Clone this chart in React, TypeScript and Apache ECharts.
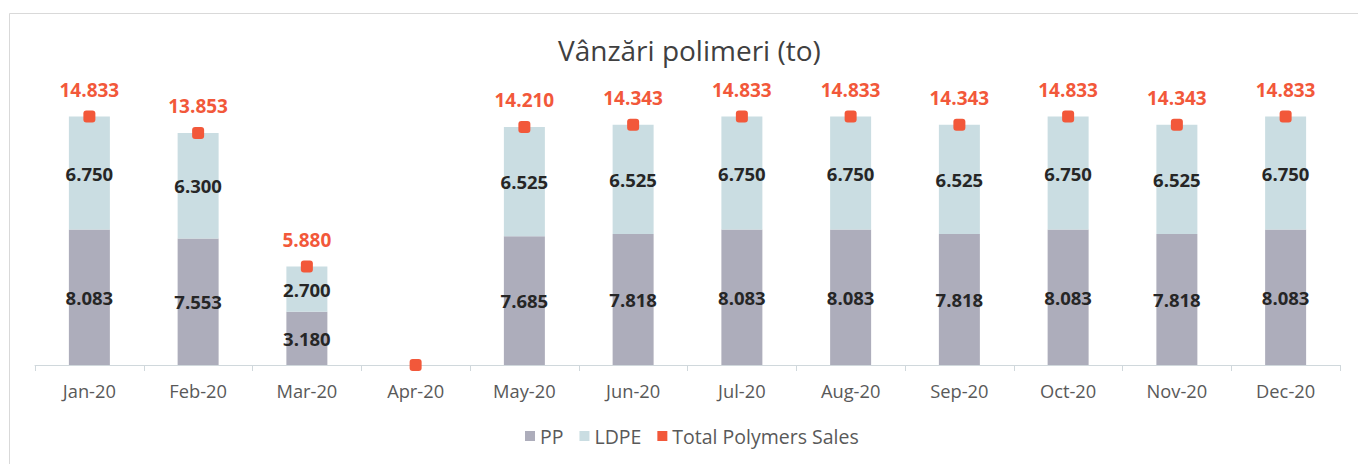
import React, { useEffect, useRef } from "react";
import * as echarts from "echarts";

const categories = ["Jan-20", "Feb-20", "Mar-20", "Apr-20", "May-20", "Jun-20", "Jul-20", "Aug-20", "Sep-20", "Oct-20", "Nov-20", "Dec-20"];
const ppValues = [8.083, 7.553, 3.18, 0, 7.685, 7.818, 8.083, 8.083, 7.818, 8.083, 7.818, 8.083];
const ldpeValues = [6.75, 6.3, 2.7, 0, 6.525, 6.525, 6.75, 6.75, 6.525, 6.75, 6.525, 6.75];
const totalValues = [14.833, 13.853, 5.88, 0, 14.21, 14.343, 14.833, 14.833, 14.343, 14.833, 14.343, 14.833];

const FONT = "'Open Sans', 'Noto Sans', sans-serif";
const fmt = (v: number) => (v ? v.toFixed(3) : "");

export default function App() {
  const ref = useRef<HTMLDivElement>(null);
  useEffect(() => {
    document.body.style.margin = "0";
    if (!ref.current) return;
    const chart = echarts.init(ref.current, undefined, { renderer: "svg" });
    chart.setOption({
      animation: false,
      backgroundColor: "#ffffff",
      textStyle: { fontFamily: FONT },
      title: {
        text: "Vânzări polimeri (to)",
        left: 553,
        top: 31,
        textStyle: { fontFamily: FONT, fontSize: 28, fontWeight: "normal", color: "#404040" },
      },
      legend: {
        bottom: 13,
        left: 520,
        itemWidth: 10,
        itemHeight: 10,
        itemGap: 16,
        icon: "rect",
        textStyle: { fontFamily: FONT, fontSize: 19.5, color: "#595959" },
        data: ["PP", "LDPE", "Total Polymers Sales"],
      },
      graphic: [
        {
          type: "rect",
          shape: { x: 9.5, y: 13.5, width: 1360, height: 460 },
          style: { fill: "none", stroke: "#d9d9d9", lineWidth: 1 },
          silent: true,
        },
      ],
      grid: { left: 35, right: 18, top: 97, bottom: 99 },
      xAxis: {
        type: "category",
        data: categories,
        axisLine: { lineStyle: { color: "#d0d8dc" } },
        axisTick: { show: true, alignWithLabel: false, length: 6, lineStyle: { color: "#d0d8dc" } },
        axisLabel: { fontFamily: FONT, fontSize: 18.3, color: "#595959", margin: 16 },
      },
      yAxis: {
        type: "value",
        min: 0,
        max: 16,
        show: false,
        splitLine: { show: false },
      },
      series: [
        {
          name: "PP",
          type: "bar",
          stack: "s",
          barWidth: 41,
          data: ppValues,
          itemStyle: { color: "#adadbb" },
          label: {
            show: true,
            position: "inside",
            formatter: (p: any) => fmt(p.value),
            fontFamily: FONT,
            fontSize: 18.5,
            fontWeight: "bold",
            color: "#262626",
          },
        },
        {
          name: "LDPE",
          type: "bar",
          stack: "s",
          barWidth: 41,
          data: ldpeValues,
          itemStyle: { color: "#cadde2" },
          label: {
            show: true,
            position: "inside",
            formatter: (p: any) => fmt(p.value),
            fontFamily: FONT,
            fontSize: 18.5,
            fontWeight: "bold",
            color: "#262626",
          },
        },
        {
          name: "Total Polymers Sales",
          type: "line",
          data: totalValues,
          lineStyle: { width: 0, opacity: 0 },
          symbol: "roundRect",
          symbolSize: 12,
          itemStyle: { color: "#f2583a" },
          label: {
            show: true,
            position: "top",
            distance: 11,
            formatter: (p: any) => fmt(p.value),
            fontFamily: FONT,
            fontSize: 19,
            fontWeight: "bold",
            color: "#f2583a",
          },
          z: 5,
        },
      ],
    });
    return () => chart.dispose();
  }, []);
  return <div ref={ref} style={{ width: 1358, height: 464 }} />;
}
